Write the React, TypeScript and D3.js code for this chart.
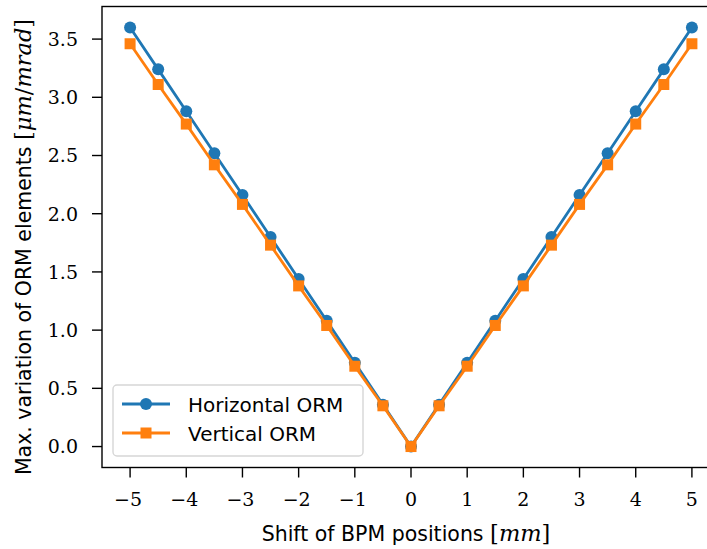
import React from "react";
import * as d3 from "d3";

// BPM shift values [mm]
const shifts = [-5, -4.5, -4, -3.5, -3, -2.5, -2, -1.5, -1, -0.5, 0, 0.5, 1, 1.5, 2, 2.5, 3, 3.5, 4, 4.5, 5];
// Max. variation of ORM elements [um/mrad]
const horizontalORM = [3.6, 3.24, 2.88, 2.52, 2.16, 1.8, 1.44, 1.08, 0.72, 0.36, 0.0, 0.36, 0.72, 1.08, 1.44, 1.8, 2.16, 2.52, 2.88, 3.24, 3.6];
const verticalORM = [3.46, 3.11, 2.77, 2.42, 2.08, 1.73, 1.38, 1.04, 0.69, 0.35, 0.0, 0.35, 0.69, 1.04, 1.38, 1.73, 2.08, 2.42, 2.77, 3.11, 3.46];
const xTicks = [-5, -4, -3, -2, -1, 0, 1, 2, 3, 4, 5];
const yTicks = [0, 0.5, 1.0, 1.5, 2.0, 2.5, 3.0, 3.5];

const W = 707;
const H = 549;
const left = 102;
const right = 720;
const top = 6.5;
const bottom = 467.5;

const blue = "#1f77b4";
const orange = "#ff7f0e";
const serif = "'DejaVu Serif', serif";
const sans = "'DejaVu Sans', sans-serif";
const tickFont = 19;
const labelFont = 20.5;
const mathFont = 22.5;
const legendFont = 20;
const tickLen = 10;

const fmtNeg = (v: number, digits: number) => {
  const s = Math.abs(v).toFixed(digits);
  return v < 0 ? "\u2212" + s : s;
};

export default function App() {
  const x = d3.scaleLinear().domain([-5.5, 5.5]).range([left, right]);
  const y = d3.scaleLinear().domain([-0.18, 3.78]).range([bottom, top]);
  const line = d3
    .line<number>()
    .x((_, i) => x(shifts[i]))
    .y((d) => y(d));

  const sq = 11;
  return (
    <svg
      width={W}
      height={H}
      style={{ position: "absolute", left: 0, top: 0, background: "#fff" }}
    >
      {/* data series */}
      <path d={line(horizontalORM) ?? ""} fill="none" stroke={blue} strokeWidth={2.8} />
      {horizontalORM.map((v, i) => (
        <circle key={"h" + i} cx={x(shifts[i])} cy={y(v)} r={6} fill={blue} />
      ))}
      <path d={line(verticalORM) ?? ""} fill="none" stroke={orange} strokeWidth={2.8} />
      {verticalORM.map((v, i) => (
        <rect
          key={"v" + i}
          x={x(shifts[i]) - sq / 2}
          y={y(v) - sq / 2}
          width={sq}
          height={sq}
          fill={orange}
        />
      ))}

      {/* axes frame */}
      <rect
        x={left}
        y={top}
        width={right - left}
        height={bottom - top}
        fill="none"
        stroke="#000"
        strokeWidth={1.4}
      />

      {/* x ticks */}
      {xTicks.map((t) => (
        <g key={"xt" + t} transform={`translate(${x(t)},${bottom})`}>
          <line y1={0} y2={tickLen} stroke="#000" strokeWidth={1.4} />
          <text
            x={t < 0 ? -2 : 0}
            y={38.5}
            textAnchor="middle"
            fontFamily={serif}
            fontSize={tickFont}
            fill="#000"
          >
            {fmtNeg(t, 0)}
          </text>
        </g>
      ))}

      {/* y ticks */}
      {yTicks.map((t) => (
        <g key={"yt" + t} transform={`translate(${left},${y(t)})`}>
          <line x1={0} x2={-tickLen} stroke="#000" strokeWidth={1.4} />
          <text
            x={-24}
            dy="0.36em"
            textAnchor="end"
            fontFamily={serif}
            fontSize={tickFont}
            fill="#000"
          >
            {t.toFixed(1)}
          </text>
        </g>
      ))}

      {/* axis labels */}
      <text
        x={406}
        y={541}
        textAnchor="middle"
        fontFamily={sans}
        fontSize={labelFont}
        fill="#000"
      >
        Shift of BPM positions{" "}
        <tspan fontFamily={serif} fontSize={mathFont}>[</tspan>
        <tspan fontFamily={serif} fontSize={mathFont} fontStyle="italic">mm</tspan>
        <tspan fontFamily={serif} fontSize={mathFont}>]</tspan>
      </text>
      <text
        transform={`translate(31,247) rotate(-90)`}
        textAnchor="middle"
        fontFamily={sans}
        fontSize={labelFont}
        fill="#000"
      >
        Max. variation of ORM elements{" "}
        <tspan fontFamily={serif} fontSize={mathFont}>[</tspan>
        <tspan fontFamily={serif} fontSize={mathFont} fontStyle="italic">μm</tspan>
        <tspan fontFamily={serif} fontSize={mathFont}>/</tspan>
        <tspan fontFamily={serif} fontSize={mathFont} fontStyle="italic">mrad</tspan>
        <tspan fontFamily={serif} fontSize={mathFont}>]</tspan>
      </text>

      {/* legend */}
      <g>
        <rect
          x={113}
          y={385}
          width={250}
          height={71}
          rx={4}
          fill="#fff"
          fillOpacity={0.8}
          stroke="#d6d6d6"
          strokeWidth={1.4}
        />
        <line x1={122} x2={170} y1={404} y2={404} stroke={blue} strokeWidth={2.8} />
        <circle cx={146} cy={404} r={6} fill={blue} />
        <text x={188} y={411.5} fontFamily={sans} fontSize={legendFont} fill="#000">
          Horizontal ORM
        </text>
        <line x1={122} x2={170} y1={433} y2={433} stroke={orange} strokeWidth={2.8} />
        <rect x={146 - sq / 2} y={433 - sq / 2} width={sq} height={sq} fill={orange} />
        <text x={188} y={440.5} fontFamily={sans} fontSize={legendFont} fill="#000">
          Vertical ORM
        </text>
      </g>
    </svg>
  );
}
